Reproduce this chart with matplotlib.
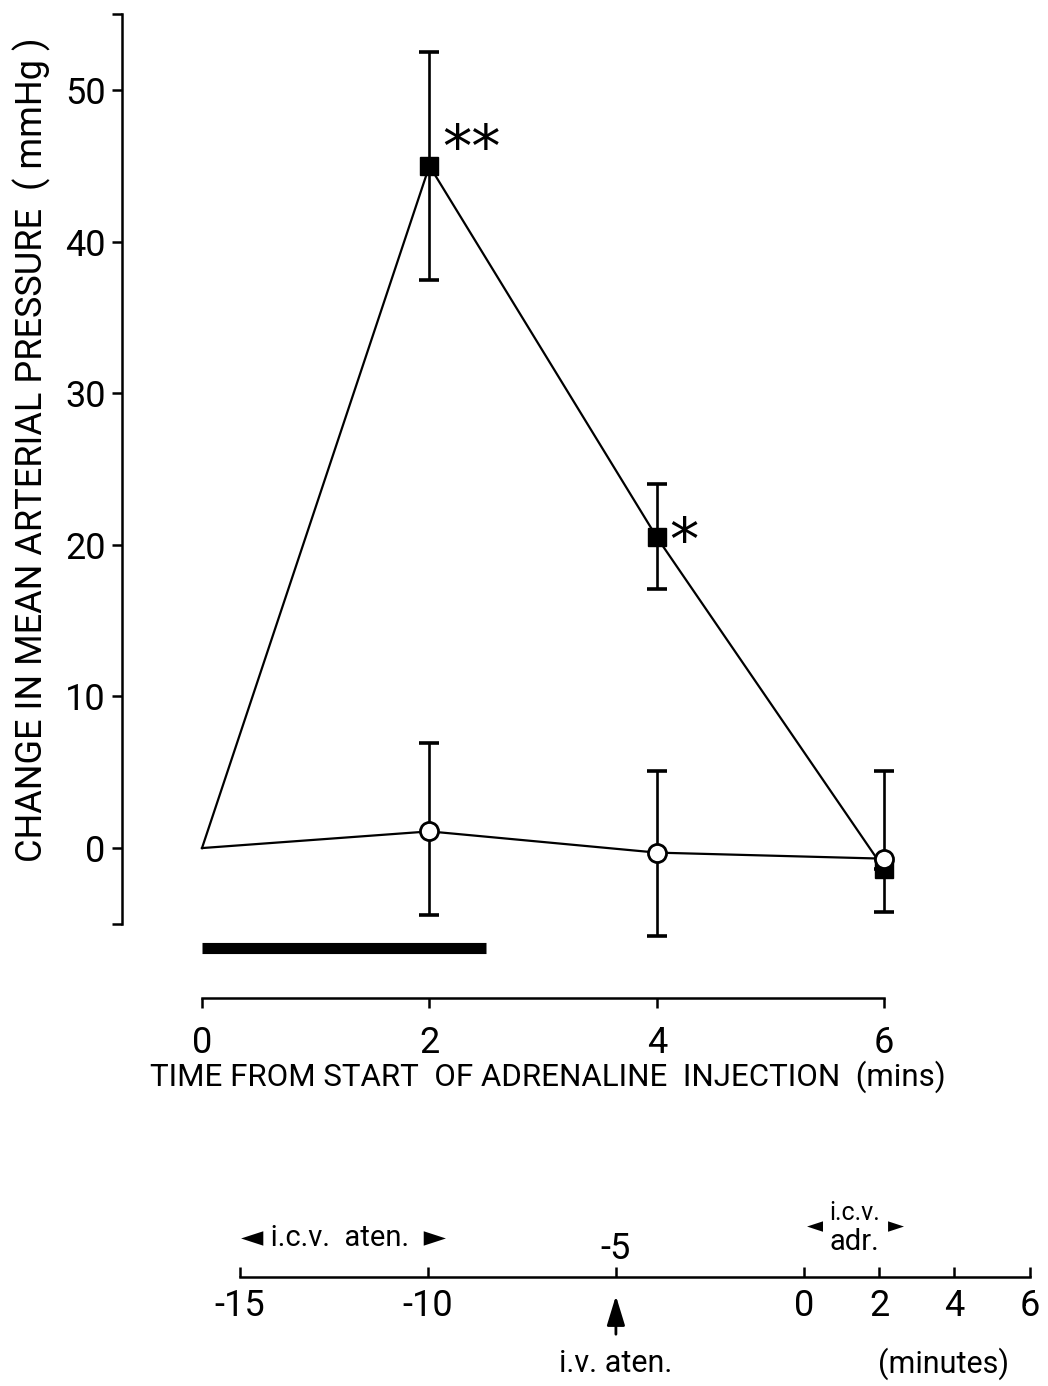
import matplotlib
matplotlib.use('Agg')
import matplotlib.pyplot as plt

plt.rcParams['font.family'] = ['Roboto', 'DejaVu Sans']

# ---------------- data ----------------
time = [0, 2, 4, 6]
adr_mean = [0, 45, 20.5, -1.4]
adr_err_lo = [7.5, 3.4, 2.8]
adr_err_hi = [7.5, 3.5, 0]
aten_mean = [0, 1.1, -0.3, -0.7]
aten_err_lo = [5.5, 5.5, 0]
aten_err_hi = [5.8, 5.4, 5.8]
sig_x = [2, 4]
sig_y = [46.0, 20.1]
sig_labels = ['**', '*']
infusion = [0, 2.5]
yticks = [-5, 0, 10, 20, 30, 40, 50, 55]
ytick_labels = ['', '0', '10', '20', '30', '40', '50', '']
xticks = [0, 2, 4, 6]
xtick_labels = ['0', '2', '4', '6']
tl_ticks = [-15, -10, -5, 0, 2, 4, 6]
tl_labels = ['-15', '-10', '', '0', '2', '4', '6']

W, H = 1048, 1386
fig = plt.figure(figsize=(W / 100, H / 100), dpi=100)

# ---------------- main panel ----------------
ax = fig.add_axes([100 / W, 1 - 1040 / H, 900 / W, 1030 / H])
ax.set_xlim(-0.897, 7.018)
ax.set_ylim(-12.66, 55.28)
for s in ['top', 'right']:
    ax.spines[s].set_visible(False)
ax.spines['left'].set_position(('data', -0.7))
ax.spines['left'].set_bounds(-5, 55)
ax.spines['bottom'].set_position(('data', -9.9))
ax.spines['bottom'].set_bounds(0, 6)
for s in ['left', 'bottom']:
    ax.spines[s].set_linewidth(1.8)
ax.set_yticks(yticks)
ax.set_yticklabels(ytick_labels)
ax.set_xticks(xticks)
ax.set_xticklabels(xtick_labels)
ax.tick_params(axis='y', direction='out', length=7, width=1.8,
               labelsize=26, pad=5)
ax.tick_params(axis='x', direction='out', length=7, width=1.8,
               labelsize=26, pad=12)

lw = 1.6
ax.plot(time, adr_mean, '-', color='black', lw=lw, zorder=2)
ax.errorbar(time[1:], adr_mean[1:], yerr=[adr_err_lo, adr_err_hi], fmt='none',
            ecolor='black', elinewidth=lw + 0.3, capsize=7, capthick=2.6,
            zorder=2)
ax.plot(time[1:], adr_mean[1:], 's', color='black', ms=13, zorder=4)
ax.plot(time, aten_mean, '-', color='black', lw=lw, zorder=3)
ax.errorbar(time[1:], aten_mean[1:], yerr=[aten_err_lo, aten_err_hi],
            fmt='none', ecolor='black', elinewidth=lw + 0.3, capsize=7,
            capthick=2.6, zorder=3)
ax.plot(time[1:], aten_mean[1:], 'o', mfc='white', mec='black', mew=2,
        ms=13, zorder=5)

for x, y, t in zip(sig_x, sig_y, sig_labels):
    ax.text(x + 0.11, y, t, fontsize=42, ha='left', va='center',
            family='DejaVu Sans')

ax.plot(infusion, [-6.6, -6.6], color='black', lw=8, solid_capstyle='butt')

fig.text(32 / W, 1 - 450 / H, 'CHANGE IN MEAN ARTERIAL PRESSURE  ( mmHg )',
         rotation=90, fontsize=26, ha='center', va='center')
fig.text(548 / W, 1 - 1077 / H,
         'TIME FROM START  OF ADRENALINE  INJECTION  (mins)',
         fontsize=22.5, ha='center', va='center')

# ---------------- timeline ----------------
ax2 = fig.add_axes([200 / W, 0, 848 / W, 206 / H])
ax2.set_xlim(-16.06, 6.49)
ax2.set_ylim(0, 1)
for s in ['top', 'right', 'left']:
    ax2.spines[s].set_visible(False)
ax2.spines['bottom'].set_position(('axes', 109 / 206))
ax2.spines['bottom'].set_bounds(-15, 6)
ax2.spines['bottom'].set_linewidth(1.8)
ax2.set_yticks([])
ax2.set_xticks(tl_ticks)
ax2.set_xticklabels(tl_labels)
ax2.tick_params(axis='x', direction='in', length=7, width=1.8,
                labelsize=26, pad=8)
ax2.text(-5, (109 + 28) / 206, '-5', fontsize=26, ha='center', va='center')
ax2.annotate('', xy=(-5, (109 - 16) / 206), xytext=(-5, (109 - 60) / 206),
             arrowprops=dict(arrowstyle='-|>,head_length=1.8,head_width=0.55',
                             color='black', lw=2))
ax2.text(-5, (1386 - 1364) / 206, 'i.v. aten.', fontsize=22, ha='center',
         va='center')
ax2.text(3.7, (1386 - 1364) / 206, '(minutes)', fontsize=22, ha='center',
         va='center')
ax2.text(-12.25, (1386 - 1238) / 206, '◄ i.c.v.  aten.  ►', fontsize=21,
         ha='center', va='center')
ax2.text(1.35, (1386 - 1213) / 206, 'i.c.v.', fontsize=18, ha='center',
         va='center')
ax2.text(1.35, (1386 - 1242) / 206, 'adr.', fontsize=21, ha='center',
         va='center')
ax2.text(0.3, (1386 - 1226) / 206, '◄', fontsize=15, ha='center',
         va='center', family='DejaVu Sans')
ax2.text(2.45, (1386 - 1226) / 206, '►', fontsize=15, ha='center',
         va='center', family='DejaVu Sans')

fig.savefig('out.png', dpi=100)
